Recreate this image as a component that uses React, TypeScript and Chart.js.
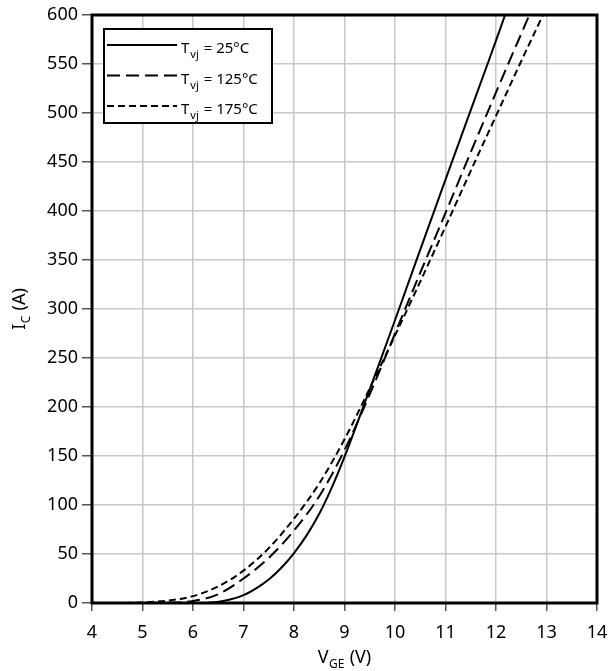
import React, { useEffect, useRef } from "react";
import { Chart, registerables } from "chart.js";
Chart.register(...registerables);

// ---- data ----
const vge25 = [4, 6, 6.3, 6.6, 7, 7.25, 7.5, 7.75, 8, 8.25, 8.5, 8.75, 9, 9.35, 9.7, 10.08, 10.44, 10.79, 11.14, 11.5, 11.84, 12.18];
const ic25 = [0, 0, 0.3, 2, 8, 15, 24, 36, 51, 69, 91, 118, 149, 197, 246, 300, 352, 402, 452, 503, 551, 600];

const vge125 = [4, 5, 5.5, 6, 6.5, 7, 7.5, 8, 8.5, 9, 9.5, 10, 10.5, 11, 11.5, 12, 12.66];
const ic125 = [0, 0, 0.3, 2, 9, 25, 46, 74, 109, 156, 213, 275, 337, 398, 460, 521, 600];

const vge175 = [4, 4.5, 5, 5.5, 6, 6.5, 7, 7.5, 8, 8.5, 9, 9.5, 10, 10.5, 11, 11.5, 12, 12.5, 12.93];
const ic175 = [0, 0, 0.5, 2.5, 7, 17, 33, 56, 86, 122, 167, 219, 273, 328, 384, 441, 497, 553, 600];

const seriesTemps = ["25°C", "125°C", "175°C"];
const seriesDashes: number[][] = [[], [13, 6], [7, 4]];

const xMin = 4, xMax = 14, xStep = 1;
const yMin = 0, yMax = 600, yStep = 50;

const FONT = "'Noto Sans', 'DejaVu Sans', sans-serif";

type Part = { t: string; sub?: boolean; gap?: number };

function drawSubText(ctx: CanvasRenderingContext2D, parts: Part[], x: number, y: number, size: number, subSize: number, subDy: number, align: "left" | "center") {
  ctx.textBaseline = "alphabetic";
  ctx.textAlign = "left";
  let total = 0;
  const widths = parts.map((p) => {
    ctx.font = `${p.sub ? subSize : size}px ${FONT}`;
    const w = ctx.measureText(p.t).width + (p.gap || 0);
    total += w;
    return w;
  });
  let cx = align === "center" ? x - total / 2 : x;
  parts.forEach((p, i) => {
    ctx.font = `${p.sub ? subSize : size}px ${FONT}`;
    ctx.fillText(p.t, cx + (p.gap || 0) / 2, p.sub ? y + subDy : y);
    cx += widths[i];
  });
}

const decorPlugin = {
  id: "decor",
  afterDraw(chart: any) {
    const { ctx, chartArea } = chart;
    const { left, top, right, bottom } = chartArea;
    ctx.save();
    // frame
    ctx.strokeStyle = "#000";
    ctx.lineWidth = 3;
    ctx.setLineDash([]);
    ctx.strokeRect(left, top, right - left, bottom - top);

    // legend
    const lx = 104, ly = 29, lw = 168, lh = 94;
    ctx.fillStyle = "#fff";
    ctx.fillRect(lx, ly, lw, lh);
    ctx.lineWidth = 2;
    ctx.strokeRect(lx, ly, lw, lh);
    const rowY = [45, 75.5, 106];
    ctx.fillStyle = "#000";
    seriesTemps.forEach((t, i) => {
      ctx.beginPath();
      ctx.lineWidth = 2;
      ctx.setLineDash(seriesDashes[i]);
      ctx.moveTo(107, rowY[i]);
      ctx.lineTo(177, rowY[i]);
      ctx.stroke();
      ctx.setLineDash([]);
      drawSubText(ctx, [{ t: "T" }, { t: "vj", sub: true, gap: 2 }, { t: " = " + t }], 181, rowY[i] + 8, 15, 11, 5, "left");
    });

    // axis titles
    ctx.fillStyle = "#000";
    drawSubText(ctx, [{ t: "V" }, { t: "GE", sub: true, gap: 1 }, { t: " (V)" }], (left + right) / 2, 663, 18, 12, 5, "center");
    ctx.save();
    ctx.translate(25, (top + bottom) / 2);
    ctx.rotate(-Math.PI / 2);
    drawSubText(ctx, [{ t: "I" }, { t: "C", sub: true, gap: 1 }, { t: " (A)" }], 0, 0, 18, 12, 5, "center");
    ctx.restore();
    ctx.restore();
  },
};

export default function App() {
  const ref = useRef<HTMLCanvasElement>(null);
  useEffect(() => {
    document.body.style.margin = "0";
    const mk = (xs: number[], ys: number[]) => xs.map((x, i) => ({ x, y: ys[i] }));
    const datas = [mk(vge25, ic25), mk(vge125, ic125), mk(vge175, ic175)];
    const chart = new Chart(ref.current!, {
      type: "line",
      data: {
        datasets: datas.map((d, i) => ({
          label: "Tvj = " + seriesTemps[i],
          data: d,
          borderColor: "#000",
          borderWidth: 2,
          borderDash: seriesDashes[i],
          pointRadius: 0,
          fill: false,
          cubicInterpolationMode: "monotone" as const,
        })),
      },
      options: {
        animation: false,
        responsive: false,
        devicePixelRatio: 1,
        layout: { padding: { top: 15, right: 13, left: 0, bottom: 0 } },
        plugins: { legend: { display: false }, tooltip: { enabled: false } },
        scales: {
          x: {
            type: "linear",
            min: xMin,
            max: xMax,
            ticks: { stepSize: xStep, color: "#000", font: { family: FONT, size: 18 }, padding: 11 },
            grid: { color: "#c8c8c8", lineWidth: 1.5, tickLength: 8, tickColor: "#555" },
            border: { display: false },
            afterFit: (s: any) => { s.height = 68; s.paddingLeft = 0; s.paddingRight = 0; },
          },
          y: {
            type: "linear",
            min: yMin,
            max: yMax,
            ticks: { stepSize: yStep, color: "#000", font: { family: FONT, size: 18 }, padding: 4 },
            grid: { color: "#c8c8c8", lineWidth: 1.5, tickLength: 10, tickColor: "#555" },
            border: { display: false },
            afterFit: (s: any) => { s.width = 92; s.paddingTop = 0; s.paddingBottom = 0; },
          },
        },
      },
      plugins: [decorPlugin],
    });
    return () => chart.destroy();
  }, []);
  return (
    <div style={{ width: 610, height: 671 }}>
      <canvas ref={ref} width={610} height={671} />
    </div>
  );
}
